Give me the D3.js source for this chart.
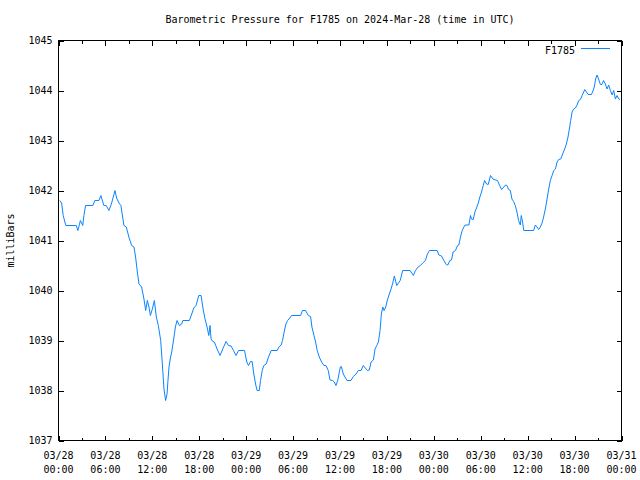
<!DOCTYPE html>
<html><head><meta charset="utf-8">
<script src="https://cdn.jsdelivr.net/npm/d3@7"></script>
<style>body{margin:0;background:#fff}svg{display:block}text{font-family:"DejaVu Sans Mono",monospace;font-size:10px;fill:#000}</style>
</head><body><div id="chart"></div>
<script>
const title = "Barometric Pressure for F1785 on 2024-Mar-28 (time in UTC)";
const seriesName = "F1785";
const yLabel = "milliBars";
const yTicks = [1037,1038,1039,1040,1041,1042,1043,1044,1045];
const xTickDates = ["03/28","03/28","03/28","03/28","03/29","03/29","03/29","03/29","03/30","03/30","03/30","03/30","03/31"];
const xTickTimes = ["00:00","06:00","12:00","18:00","00:00","06:00","12:00","18:00","00:00","06:00","12:00","18:00","00:00"];
// hours since 2024-03-28 00:00 UTC
const hours = [0.17,0.4,0.6,0.85,0.95,2.27,2.48,2.8,3.1,3.25,3.46,4.4,4.65,5.17,5.42,5.8,6.1,6.45,6.8,7.22,7.43,7.73,7.98,8.37,8.67,9.0,9.35,9.65,9.86,10.08,10.29,10.63,10.93,11.15,11.36,11.57,11.75,12.0,12.26,12.51,12.77,13.07,13.28,13.49,13.7,13.88,14.0,14.13,14.31,14.48,14.73,14.95,15.16,15.46,15.76,15.9,16.74,17.04,17.3,17.59,17.94,18.23,18.49,18.74,19.0,19.22,19.38,19.51,19.73,19.94,20.28,20.66,21.0,21.43,21.74,22.07,22.38,22.71,23.02,23.79,24.08,24.3,24.55,24.76,24.98,25.2,25.4,25.67,25.84,26.05,26.26,26.56,26.86,27.2,27.97,28.18,28.48,28.65,28.86,29.08,29.3,29.59,29.8,30.96,31.2,31.6,31.94,32.24,32.41,32.67,32.88,33.09,33.35,33.65,33.95,34.2,34.5,34.72,35.06,35.27,35.49,35.7,35.87,36.04,36.17,36.42,36.64,36.9,37.4,37.7,38.05,38.34,38.69,38.98,39.24,39.5,39.75,39.97,40.27,40.48,40.7,40.91,41.12,41.29,41.47,41.63,41.85,42.06,42.31,42.53,42.75,42.95,43.26,43.7,44.02,44.96,45.38,45.65,45.99,46.28,46.59,46.92,47.18,47.44,48.42,48.64,48.98,49.28,49.58,49.79,50.05,50.26,50.47,50.77,51.03,51.2,51.41,51.63,51.84,52.0,52.49,52.69,52.82,53.04,53.25,53.46,53.68,53.89,54.1,54.32,54.49,54.74,54.96,55.25,55.56,55.9,56.15,56.41,56.66,56.96,57.17,57.35,57.56,57.78,57.99,58.2,58.42,58.63,58.84,59.06,59.18,59.35,59.5,60.76,60.98,61.2,61.4,61.62,61.84,62.04,62.26,62.48,62.69,62.9,63.12,63.33,63.55,63.76,63.97,64.23,64.48,64.73,64.95,65.16,65.33,65.5,65.68,65.88,66.1,66.32,66.53,66.75,66.96,67.17,67.3,67.52,67.73,68.15,68.3,68.52,68.69,68.87,69.07,69.3,69.5,69.7,69.94,70.15,70.36,70.58,70.8,71.0,71.22,71.43,71.65,71.82];
const pressure = [1041.8,1041.75,1041.5,1041.35,1041.3,1041.3,1041.2,1041.4,1041.3,1041.5,1041.7,1041.7,1041.8,1041.8,1041.9,1041.7,1041.7,1041.6,1041.75,1042.0,1041.85,1041.75,1041.7,1041.3,1041.27,1041.07,1040.9,1040.87,1040.67,1040.37,1040.13,1040.07,1039.83,1039.6,1039.8,1039.67,1039.5,1039.63,1039.8,1039.47,1039.3,1039.0,1038.53,1038.03,1037.8,1037.93,1038.2,1038.47,1038.65,1038.77,1039.03,1039.27,1039.4,1039.3,1039.33,1039.4,1039.4,1039.53,1039.65,1039.7,1039.9,1039.9,1039.63,1039.43,1039.27,1039.1,1039.3,1039.03,1038.98,1038.97,1038.83,1038.7,1038.83,1038.98,1038.9,1038.89,1038.8,1038.7,1038.8,1038.8,1038.57,1038.5,1038.58,1038.58,1038.33,1038.13,1038.0,1038.0,1038.2,1038.4,1038.5,1038.53,1038.67,1038.8,1038.8,1038.87,1038.91,1039.0,1039.17,1039.33,1039.4,1039.45,1039.5,1039.5,1039.6,1039.6,1039.5,1039.48,1039.27,1039.1,1038.97,1038.8,1038.67,1038.57,1038.5,1038.5,1038.4,1038.21,1038.2,1038.17,1038.1,1038.2,1038.33,1038.47,1038.48,1038.33,1038.27,1038.2,1038.2,1038.28,1038.33,1038.4,1038.4,1038.5,1038.45,1038.4,1038.41,1038.57,1038.61,1038.83,1038.9,1038.97,1039.2,1039.53,1039.67,1039.6,1039.67,1039.81,1039.93,1040.03,1040.15,1040.29,1040.1,1040.2,1040.4,1040.4,1040.3,1040.4,1040.47,1040.5,1040.55,1040.6,1040.73,1040.8,1040.8,1040.71,1040.69,1040.6,1040.52,1040.51,1040.6,1040.61,1040.77,1040.8,1040.9,1040.91,1041.07,1041.2,1041.27,1041.31,1041.31,1041.5,1041.43,1041.42,1041.57,1041.65,1041.75,1041.87,1041.97,1042.1,1042.2,1042.13,1042.12,1042.3,1042.23,1042.21,1042.2,1042.1,1042.02,1042.07,1042.11,1042.1,1042.02,1042.0,1041.83,1041.78,1041.7,1041.57,1041.4,1041.31,1041.5,1041.37,1041.2,1041.2,1041.31,1041.27,1041.22,1041.27,1041.35,1041.47,1041.63,1041.83,1042.03,1042.2,1042.3,1042.4,1042.43,1042.57,1042.62,1042.63,1042.73,1042.83,1042.93,1043.07,1043.23,1043.4,1043.57,1043.63,1043.65,1043.71,1043.8,1043.82,1043.9,1043.97,1044.02,1043.97,1043.92,1043.92,1043.97,1044.07,1044.23,1044.31,1044.23,1044.12,1044.12,1044.2,1044.13,1044.03,1044.11,1044.0,1043.91,1044.0,1043.83,1043.9,1043.83,1043.82];

const W = 640, H = 480;
const L = 58.5, R = 621.5, T = 40.5, B = 440.5;
const t0 = Date.UTC(2024, 2, 28, 0, 0);
const HR = 3600e3;
const data = hours.map((h, i) => ({t: new Date(t0 + h * HR), v: pressure[i]}));

const svg = d3.select("#chart").append("svg").attr("width", W).attr("height", H);
const x = d3.scaleUtc().domain([new Date(t0), new Date(t0 + 72 * HR)]).range([L, R]);
const y = d3.scaleLinear().domain([1037, 1045]).range([B, T]);

// frame
svg.append("rect").attr("x", L).attr("y", T).attr("width", R - L).attr("height", B - T)
  .attr("fill", "none").attr("stroke", "#000").attr("stroke-width", 1).attr("shape-rendering", "crispEdges");

const majorDates = d3.range(0, 13).map(i => new Date(t0 + i * 6 * HR));
const minorDates = d3.range(0, 12).map(i => new Date(t0 + (i * 6 + 3) * HR));

// bottom axis (ticks inward)
const gB = svg.append("g").attr("transform", `translate(0,${B})`)
  .call(d3.axisBottom(x).tickValues(majorDates).tickSizeInner(-5).tickSizeOuter(0).tickFormat(""));
gB.append("g").call(d3.axisBottom(x).tickValues(minorDates).tickSizeInner(-3).tickSizeOuter(0).tickFormat(""));
const gT = svg.append("g").attr("transform", `translate(0,${T})`)
  .call(d3.axisTop(x).tickValues(majorDates).tickSizeInner(-5).tickSizeOuter(0).tickFormat(""));
gT.append("g").call(d3.axisTop(x).tickValues(minorDates).tickSizeInner(-3).tickSizeOuter(0).tickFormat(""));
const gL = svg.append("g").attr("transform", `translate(${L},0)`)
  .call(d3.axisLeft(y).tickValues(yTicks).tickSizeInner(-5).tickSizeOuter(0).tickFormat(""));
const gR = svg.append("g").attr("transform", `translate(${R},0)`)
  .call(d3.axisRight(y).tickValues(yTicks).tickSizeInner(-5).tickSizeOuter(0).tickFormat(""));
svg.selectAll(".domain").remove();
svg.selectAll(".tick line").attr("stroke", "#000").attr("shape-rendering", "crispEdges");

// y labels
svg.append("g").selectAll("text").data(yTicks).join("text")
  .attr("x", L - 6).attr("y", d => y(d)).attr("dy", "0.35em").attr("text-anchor", "end").text(d => d);

// x labels
const xl = svg.append("g").selectAll("text").data(majorDates).join("text")
  .attr("x", d => x(d)).attr("text-anchor", "middle");
xl.append("tspan").attr("x", d => x(d)).attr("y", 459).text((d, i) => xTickDates[i]);
xl.append("tspan").attr("x", d => x(d)).attr("y", 473).text((d, i) => xTickTimes[i]);

// title
svg.append("text").attr("x", (L + R) / 2).attr("y", 23).attr("text-anchor", "middle").text(title);
// y label
svg.append("text").attr("transform", `translate(14,${(T + B) / 2}) rotate(-90)`).attr("text-anchor", "middle").text(yLabel);

// line
const line = d3.line().x(d => x(d.t)).y(d => y(d.v));
svg.append("path").datum(data).attr("d", line).attr("fill", "none")
  .attr("stroke", "#0a84ff").attr("stroke-width", 1);

// legend
svg.append("text").attr("x", 575).attr("y", 54).attr("text-anchor", "end").text(seriesName);
svg.append("line").attr("x1", 581).attr("x2", 610).attr("y1", 48.5).attr("y2", 48.5)
  .attr("stroke", "#0a84ff").attr("stroke-width", 1);
</script></body></html>
